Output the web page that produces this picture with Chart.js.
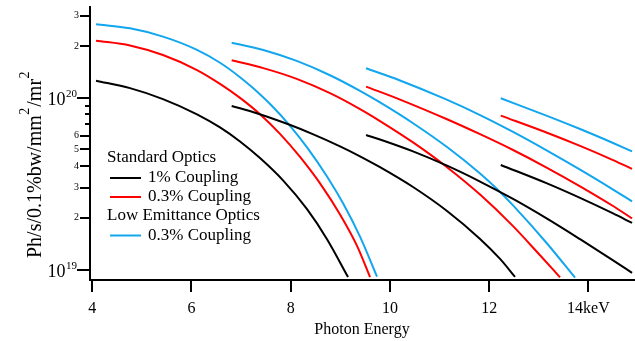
<!DOCTYPE html>
<html>
<head>
<meta charset="utf-8">
<script src="https://cdn.jsdelivr.net/npm/chart.js@4"></script>
<style>
html,body{margin:0;padding:0;background:#fff;}
#wrap{width:635px;height:341px;position:relative;}
</style>
</head>
<body>
<div id="wrap"><canvas id="c" width="635" height="341"></canvas></div>
<script>
// ---- tick labels ----
const xTickValues = [4, 6, 8, 10, 12, 14];
const xTickLabels = ['4', '6', '8', '10', '12', '14keV'];
const yTickValues = [1e19, 2e19, 3e19, 4e19, 5e19, 6e19, 7e19, 8e19, 9e19, 1e20, 2e20, 3e20];
const yTickLabels = ['', '2', '3', '4', '5', '6', '', '', '', '', '2', '3'];
const yDecadeValues = [1e19, 1e20];
const yDecadeBase = ['10', '10'];
const yDecadeExp = ['19', '20'];

// ---- axis titles / legend text ----
const xTitle = 'Photon Energy';
const yTitleParts = ['Ph/s/0.1%bw/mm', '2', '/mr', '2']; // normal, superscript, normal, superscript
const legendGroups = ['Standard Optics', 'Low Emittance Optics'];
const seriesNames = ['1% Coupling', '0.3% Coupling', '0.3% Coupling'];

// ---- Standard optics, 1% coupling (black): harmonics 1..4 ----
const std1H1E = [4.075, 4.76, 5.425, 6.111, 6.575, 6.978, 7.381, 7.845, 8.329, 8.732, 9.155];
const std1H1F = [1.256e20, 1.136e20, 9.81e19, 8.0e19, 6.71e19, 5.56e19, 4.45e19, 3.30e19, 2.244e19, 1.501e19, 9.04e18];
const std1H2E = [6.81, 7.315, 7.952, 8.456, 8.994, 9.397, 9.80, 10.466, 11.151, 11.817, 12.22, 12.522];
const std1H2F = [8.95e19, 8.12e19, 7.0e19, 6.12e19, 5.21e19, 4.56e19, 3.94e19, 3.02e19, 2.19e19, 1.507e19, 1.153e19, 9.06e18];
const std1H3E = [9.518, 9.80, 10.466, 11.151, 11.817, 12.482, 13.167, 13.833, 14.498, 14.881];
const std1H3F = [6.07e19, 5.71e19, 4.87e19, 4.02e19, 3.25e19, 2.573e19, 1.976e19, 1.501e19, 1.131e19, 9.57e18];
const std1H4E = [12.234, 13.167, 13.833, 14.498, 14.881];
const std1H4F = [4.06e19, 3.17e19, 2.61e19, 2.12e19, 1.866e19];

// ---- Standard optics, 0.3% coupling (red) ----
const std03H1E = [4.075, 4.76, 5.425, 6.111, 6.575, 6.978, 7.381, 7.784, 8.188, 8.591, 8.994, 9.337, 9.599];
const std03H1F = [2.147e20, 2.013e20, 1.77e20, 1.448e20, 1.203e20, 9.97e19, 8.01e19, 6.16e19, 4.52e19, 3.17e19, 2.09e19, 1.372e19, 9.03e18];
const std03H2E = [6.81, 7.448, 8.121, 8.792, 9.397, 9.80, 10.466, 11.151, 11.817, 12.482, 13.026, 13.429];
const std03H2F = [1.651e20, 1.485e20, 1.286e20, 1.062e20, 8.58e19, 7.31e19, 5.49e19, 3.94e19, 2.73e19, 1.789e19, 1.21e19, 9.01e18];
const std03H3E = [9.518, 10.204, 11.151, 11.817, 12.482, 13.167, 13.833, 14.498, 14.881];
const std03H3F = [1.159e20, 9.75e19, 7.49e19, 6.13e19, 4.96e19, 3.91e19, 3.05e19, 2.342e19, 1.982e19];
const std03H4E = [12.234, 13.167, 13.833, 14.498, 14.881];
const std03H4F = [7.86e19, 6.25e19, 5.24e19, 4.33e19, 3.85e19];

// ---- Low emittance optics, 0.3% coupling (blue) ----
const low03H1E = [4.075, 4.76, 5.425, 6.111, 6.575, 6.978, 7.24, 7.643, 7.986, 8.329, 8.732, 9.055, 9.397, 9.74];
const low03H1F = [2.674e20, 2.532e20, 2.266e20, 1.898e20, 1.596e20, 1.316e20, 1.137e20, 8.82e19, 6.86e19, 5.14e19, 3.48e19, 2.43e19, 1.553e19, 9.09e18];
const low03H2E = [6.81, 7.448, 8.121, 8.792, 9.397, 9.80, 10.466, 11.151, 11.817, 12.159, 12.482, 13.167, 13.732];
const low03H2F = [2.09e20, 1.895e20, 1.636e20, 1.35e20, 1.095e20, 9.38e19, 7.1e19, 5.16e19, 3.62e19, 2.94e19, 2.36e19, 1.417e19, 8.96e18];
const low03H3E = [9.518, 10.204, 11.111, 11.817, 12.482, 13.167, 13.833, 14.498, 14.881];
const low03H3F = [1.483e20, 1.259e20, 9.83e19, 7.92e19, 6.32e19, 4.92e19, 3.81e19, 2.92e19, 2.495e19];
const low03H4E = [12.234, 13.167, 13.833, 14.498, 14.881];
const low03H4F = [9.92e19, 7.84e19, 6.57e19, 5.45e19, 4.87e19];

// ---- styles ----
const colors = ['#000000', '#ff0000', '#12a6ee'];
const serif = '"Liberation Serif", "Times New Roman", serif';

function pts(e, f) { return e.map((x, i) => ({ x: x, y: f[i] })); }
function ds(e, f, c) {
  return { data: pts(e, f), borderColor: c, backgroundColor: c, borderWidth: 2,
           pointRadius: 0, fill: false, cubicInterpolationMode: 'monotone' };
}

const datasets = [
  ds(std1H1E, std1H1F, colors[0]), ds(std1H2E, std1H2F, colors[0]),
  ds(std1H3E, std1H3F, colors[0]), ds(std1H4E, std1H4F, colors[0]),
  ds(std03H1E, std03H1F, colors[1]), ds(std03H2E, std03H2F, colors[1]),
  ds(std03H3E, std03H3F, colors[1]), ds(std03H4E, std03H4F, colors[1]),
  ds(low03H1E, low03H1F, colors[2]), ds(low03H2E, low03H2F, colors[2]),
  ds(low03H3E, low03H3F, colors[2]), ds(low03H4E, low03H4F, colors[2])
];

// tick marks of three lengths, plus decade labels with superscript exponents
const axisDecor = {
  id: 'axisDecor',
  afterDraw(chart) {
    const { ctx, chartArea, scales } = chart;
    ctx.save();
    ctx.strokeStyle = '#000';
    ctx.lineWidth = 2;
    yTickValues.forEach((v, i) => {
      const py = Math.round(scales.y.getPixelForValue(v));
      const isDecade = yDecadeValues.indexOf(v) >= 0;
      const len = isDecade ? 13 : (yTickLabels[i] ? 10 : 5);
      ctx.beginPath(); ctx.moveTo(chartArea.left - len, py); ctx.lineTo(chartArea.left, py); ctx.stroke();
    });
    xTickValues.forEach(v => {
      const px = Math.round(scales.x.getPixelForValue(v));
      ctx.beginPath(); ctx.moveTo(px, chartArea.bottom); ctx.lineTo(px, chartArea.bottom + 12); ctx.stroke();
    });
    // decade labels: "10" with raised exponent
    ctx.fillStyle = '#000';
    ctx.textBaseline = 'alphabetic';
    ctx.textAlign = 'right';
    yDecadeValues.forEach((v, i) => {
      const py = scales.y.getPixelForValue(v);
      const right = chartArea.left - 13;
      ctx.font = '11px ' + serif;
      const ew = ctx.measureText(yDecadeExp[i]).width;
      ctx.fillText(yDecadeExp[i], right, py - 1);
      ctx.font = '18px ' + serif;
      ctx.fillText(yDecadeBase[i], right - ew - 0.5, py + 7);
    });
    // rotated y-axis title with superscripts
    ctx.save();
    ctx.translate(41, 258);
    ctx.rotate(-Math.PI / 2);
    ctx.textAlign = 'left';
    let cx = 0;
    yTitleParts.forEach((t, i) => {
      const sup = i % 2 === 1;
      ctx.font = (sup ? '14px ' : '20px ') + serif;
      ctx.fillText(t, cx, sup ? -12 : 0);
      cx += ctx.measureText(t).width + (sup ? 1 : 0.5);
    });
    ctx.restore();
    ctx.restore();
  }
};

const innerLegend = {
  id: 'innerLegend',
  afterDraw(chart) {
    const { ctx, chartArea } = chart;
    const x0 = chartArea.left;
    ctx.save();
    ctx.font = '17px ' + serif;
    ctx.fillStyle = '#000';
    ctx.textBaseline = 'middle';
    ctx.textAlign = 'left';
    const rows = [
      { t: legendGroups[0], c: null, y: 158 },
      { t: seriesNames[0], c: colors[0], y: 178 },
      { t: seriesNames[1], c: colors[1], y: 197 },
      { t: legendGroups[1], c: null, y: 216 },
      { t: seriesNames[2], c: colors[2], y: 235.5 }
    ];
    rows.forEach(r => {
      if (r.c) {
        ctx.strokeStyle = r.c; ctx.lineWidth = 2;
        ctx.beginPath(); ctx.moveTo(x0 + 20, r.y); ctx.lineTo(x0 + 51, r.y); ctx.stroke();
        ctx.fillText(r.t, x0 + 58, r.y);
      } else {
        ctx.fillText(r.t, x0 + 17, r.y);
      }
    });
    ctx.restore();
  }
};

new Chart(document.getElementById('c'), {
  type: 'line',
  data: { datasets: datasets },
  plugins: [axisDecor, innerLegend],
  options: {
    responsive: false,
    animation: false,
    layout: { padding: { top: 7, right: 1, left: 0, bottom: 0 } },
    plugins: { legend: { display: false }, tooltip: { enabled: false } },
    scales: {
      x: {
        type: 'linear', min: 3.954, max: 14.92,
        afterBuildTicks: s => { s.ticks = xTickValues.map(v => ({ value: v })); },
        afterFit: s => { s.height = 61; s.paddingLeft = 0; s.paddingRight = 0; },
        ticks: { autoSkip: false, maxRotation: 0, padding: 19, color: '#000',
                 font: { family: serif, size: 16 },
                 callback: (v, i) => xTickLabels[i] },
        grid: { drawOnChartArea: false, drawTicks: false },
        border: { color: '#000', width: 2 },
        title: { display: true, text: xTitle, color: '#000',
                 font: { family: serif, size: 16 }, padding: { top: 0, bottom: 2 } }
      },
      y: {
        type: 'logarithmic', min: 8.69e18, max: 3.37e20,
        afterBuildTicks: s => { s.ticks = yTickValues.map(v => ({ value: v })); },
        afterFit: s => { s.width = 90; s.paddingTop = 0; s.paddingBottom = 0; },
        ticks: { autoSkip: false, padding: 11, color: '#000',
                 font: { family: serif, size: 10 },
                 callback: (v, i) => yTickLabels[i] },
        grid: { drawOnChartArea: false, drawTicks: false },
        border: { color: '#000', width: 2 }
      }
    }
  }
});
</script>
</body>
</html>
